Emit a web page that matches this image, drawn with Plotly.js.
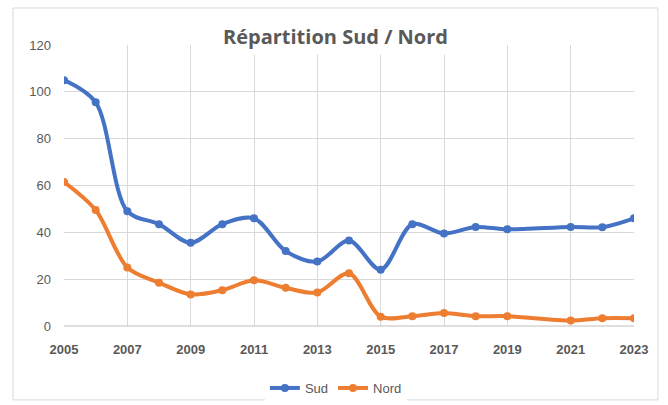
<!DOCTYPE html>
<html><head><meta charset="utf-8">
<script src="https://cdn.plot.ly/plotly-3.0.1.min.js"></script>
<style>body{margin:0;background:#fff}#c{width:668px;height:405px}</style>
</head><body><div id="c"></div>
<script>
const years = [2005,2006,2007,2008,2009,2010,2011,2012,2013,2014,2015,2016,2017,2018,2019,2021,2022,2023];
const sud  = [105,95.5,49,43.5,35.5,43.5,46,32,27.5,36.5,24,43.5,39.5,42.3,41.3,42.3,42.2,46];
const nord = [61.5,49.5,25,18.5,13.5,15.3,19.5,16.3,14.3,22.5,4,4.2,5.5,4.2,4.2,2.3,3.3,3.3];
const seriesNames = ['Sud','Nord'];
const colors = ['#4472C4','#ED7D31'];
const tickVals = [2005,2007,2009,2011,2013,2015,2017,2019,2021,2023];

const traces = [sud, nord].map((v,i)=>({
  x: years, y: v, name: seriesNames[i], type:'scatter', mode:'lines+markers',
  line:{color:colors[i], width:4, shape:'spline', smoothing:0.9},
  marker:{color:colors[i], size:8}
}));

const layout = {
  width:668, height:405,
  margin:{l:64, r:34, t:45, b:79, autoexpand:false},
  paper_bgcolor:'#fff', plot_bgcolor:'#fff',
  font:{family:'"Liberation Sans", Arial, sans-serif', color:'#595959', size:13},
  showlegend:true,
  legend:{orientation:'h', x:0.477, xanchor:'center', yref:'container', y:0.042, yanchor:'middle',
          font:{size:13, color:'#595959'}, tracegroupgap:0},
  xaxis:{range:[2005,2023], tickvals:tickVals, ticktext:tickVals.map(String), automargin:false,
         showgrid:true, gridcolor:'#d9d9d9', gridwidth:1, zeroline:false, ticklabelstandoff:14,
         showline:false, ticks:'', tickfont:{size:13, color:'#595959', family:'"Liberation Sans", Arial, sans-serif', weight:'bold'}},
  yaxis:{range:[0,120], dtick:20, showgrid:true, gridcolor:'#d9d9d9', gridwidth:1, automargin:false,
         zeroline:false, showline:false, ticks:'', ticklabelstandoff:12,
         tickfont:{size:13, color:'#595959'}},
  shapes:[
    {type:'rect', xref:'paper', yref:'paper', x0:-0.0895, x1:1.042, y0:-0.263, y1:1.1317,
     line:{color:'#d9d9d9', width:1}, fillcolor:'rgba(0,0,0,0)', layer:'below'},
    {type:'line', xref:'paper', yref:'paper', x0:0, x1:1, y0:0, y1:0, line:{color:'#bfbfbf', width:1}}
  ],
  annotations:[
    {text:'Répartition Sud / Nord', xref:'paper', yref:'paper', x:0.477, y:1.03, xanchor:'center', yanchor:'middle',
     showarrow:false, bgcolor:'#fff', borderpad:4,
     font:{family:'"Open Sans", "Liberation Sans", sans-serif', size:20, color:'#595959', weight:'bold'}}
  ]
};
Plotly.newPlot('c', traces, layout, {displayModeBar:false, staticPlot:true});
</script></body></html>
